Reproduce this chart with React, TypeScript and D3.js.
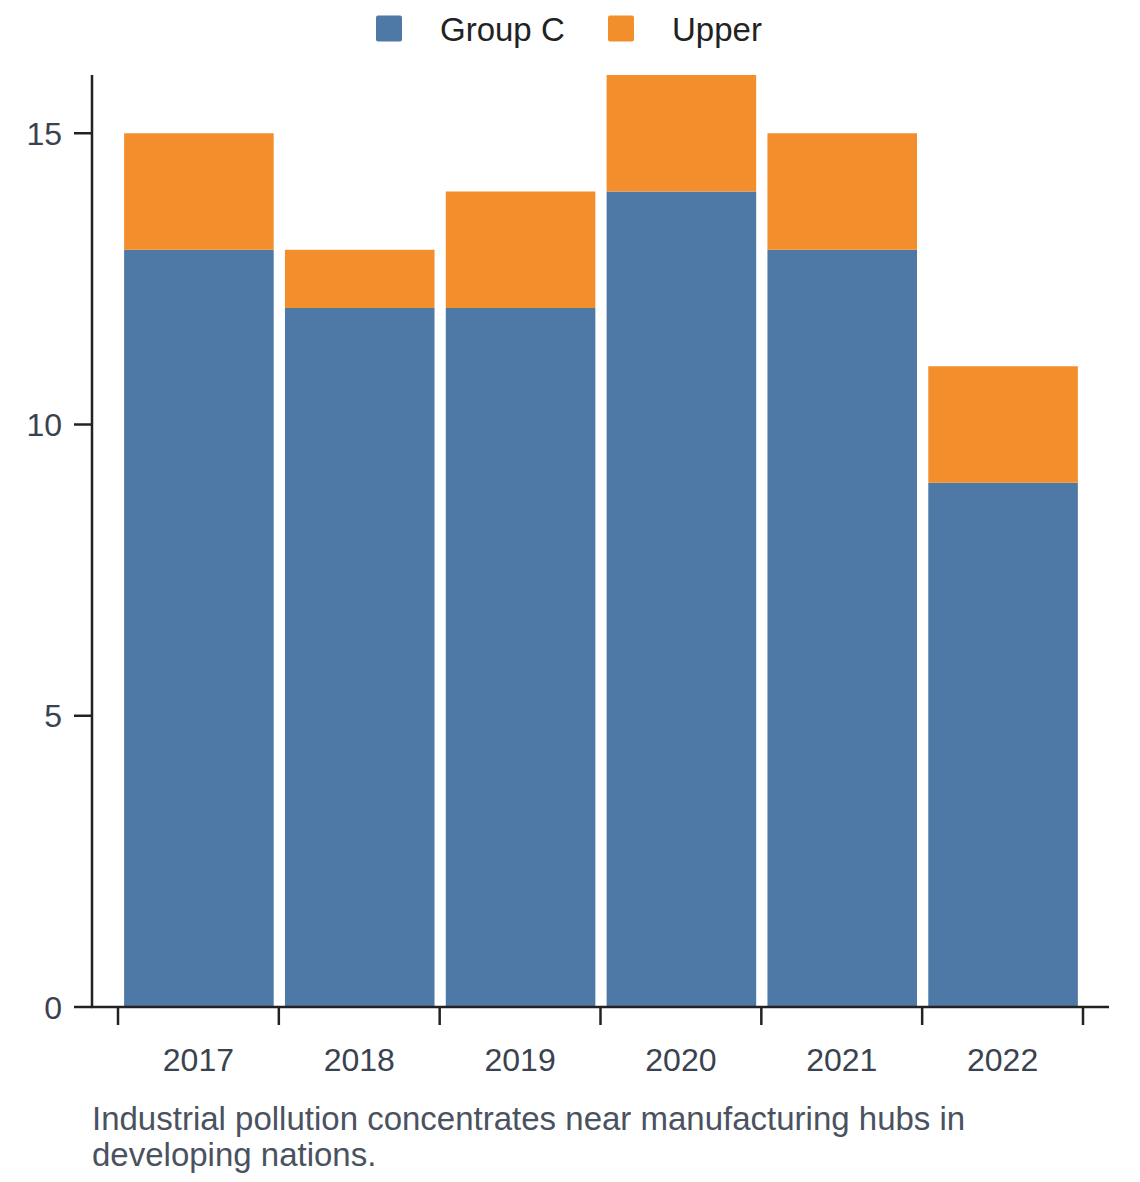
import React from "react";
import * as d3 from "d3";

const years = ["2017", "2018", "2019", "2020", "2021", "2022"];
const groupC = [13, 12, 12, 14, 13, 9];
const upper = [2, 1, 2, 2, 2, 2];
const yTicks = [0, 5, 10, 15];
const seriesNames = ["Group C", "Upper"];
const seriesColors = ["#4e79a7", "#f28e2b"];
const caption = [
  "Industrial pollution concentrates near manufacturing hubs in",
  "developing nations.",
];

const W = 1140;
const H = 1182;
const FONT = "'Liberation Sans', Arial, Helvetica, sans-serif";

export default function App() {
  const x = d3.scaleBand<string>().domain(years).range([118, 1083]).padding(0);
  const y = d3.scaleLinear().domain([0, 16]).range([1007, 75]);
  const bw = x.bandwidth();
  const insetL = bw * 0.038;
  const barW = bw * 0.93;

  const rows = years.map((yr, i) => ({ year: yr, c: groupC[i], u: upper[i] }));
  const stack = d3.stack<any>().keys(["c", "u"])(rows);

  return (
    <svg
      width={W}
      height={H}
      style={{ position: "absolute", left: 0, top: 0, background: "#fff" }}
      fontFamily={FONT}
    >
      {/* bars */}
      {stack.map((layer, si) => (
        <g key={si} fill={seriesColors[si]}>
          {layer.map((d, i) => (
            <rect
              key={i}
              x={(x(years[i]) as number) + insetL}
              y={y(d[1])}
              width={barW}
              height={y(d[0]) - y(d[1])}
            />
          ))}
        </g>
      ))}

      {/* y axis */}
      <line x1={92} x2={92} y1={y(16)} y2={y(0) + 1} stroke="#222" strokeWidth={2.5} />
      {yTicks.map((t) => (
        <g key={t}>
          <line x1={74} x2={92} y1={y(t)} y2={y(t)} stroke="#222" strokeWidth={2.5} />
          <text x={62} y={y(t)} dy="0.36em" textAnchor="end" fontSize={32} fill="#3a4250">
            {t}
          </text>
        </g>
      ))}

      {/* x axis */}
      <line x1={91} x2={1109} y1={y(0)} y2={y(0)} stroke="#222" strokeWidth={2.5} />
      {[...years.map((yr) => x(yr) as number), 1083].map((px, i) => (
        <line key={i} x1={px} x2={px} y1={y(0)} y2={y(0) + 18} stroke="#222" strokeWidth={2.5} />
      ))}
      {years.map((yr) => (
        <text
          key={yr}
          x={(x(yr) as number) + bw / 2}
          y={1071}
          textAnchor="middle"
          fontSize={32}
          fill="#3a4250"
        >
          {yr}
        </text>
      ))}

      {/* legend */}
      {seriesNames.map((name, i) => {
        const lx = [376, 608][i];
        return (
          <g key={name}>
            <rect x={lx} y={15.5} width={26} height={26} rx={2} fill={seriesColors[i]} />
            <text x={lx + 64} y={41} fontSize={33} fill="#222">
              {name}
            </text>
          </g>
        );
      })}

      {/* caption */}
      {caption.map((line, i) => (
        <text key={i} x={92} y={1130 + i * 36} fontSize={33} fill="#4a5260">
          {line}
        </text>
      ))}
    </svg>
  );
}
